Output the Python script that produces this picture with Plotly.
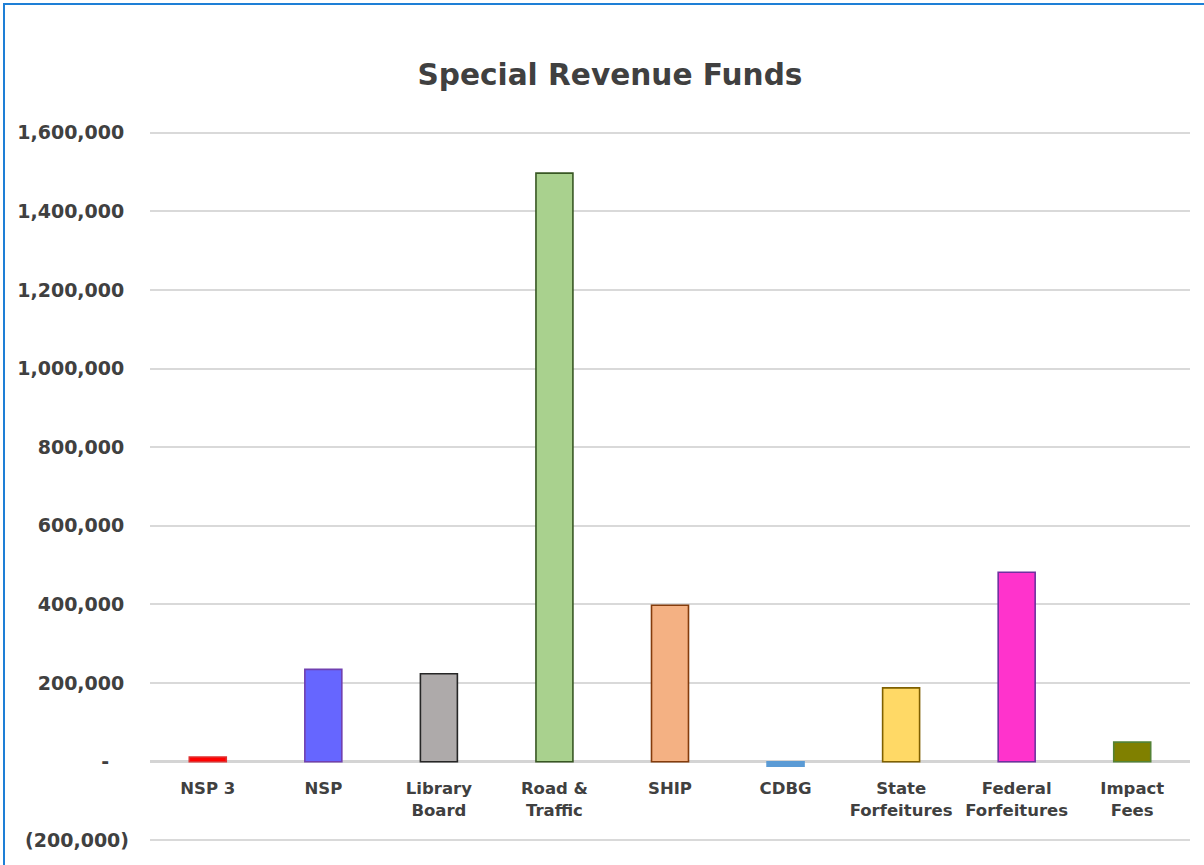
import plotly.graph_objects as go

# Fund balances by special revenue fund
categories = ["NSP 3", "NSP", "Library<br>Board", "Road &<br>Traffic", "SHIP",
              "CDBG", "State<br>Forfeitures", "Federal<br>Forfeitures", "Impact<br>Fees"]
values = [12000, 235000, 224000, 1497000, 398000, -11000, 188000, 482000, 50000]

fill_colors = ["#FF0000", "#6666FF", "#AEAAAA", "#A9D18E", "#F4B183",
               "#5B9BD5", "#FFD966", "#FF33CC", "#808000"]
edge_colors = ["#E03030", "#7040B0", "#262626", "#385723", "#843C0C",
               "#5B9BD5", "#7F6000", "#7030A0", "#548235"]

tick_vals = [-200000, 0, 200000, 400000, 600000, 800000, 1000000, 1200000, 1400000, 1600000]
tick_text = ["(200,000)", "-\u00a0\u00a0\u00a0", "200,000\u2005", "400,000\u2005", "600,000\u2005",
             "800,000\u2005", "1,000,000\u2005", "1,200,000\u2005", "1,400,000\u2005", "1,600,000\u2005"]

FONT = "DejaVu Sans"
TEXT = "#404040"

# small headroom so the outer gridlines are drawn
Y_MIN, Y_MAX = -204000, 1604000

fig = go.Figure(go.Bar(
    x=categories,
    y=values,
    width=0.32,
    marker=dict(color=fill_colors, line=dict(color=edge_colors, width=1.6)),
    hoverinfo="x+y",
))

fig.update_layout(
    width=1204,
    height=865,
    margin=dict(l=150, r=14, t=131, b=23),
    paper_bgcolor="white",
    plot_bgcolor="white",
    showlegend=False,
    title=dict(
        text="<b>Special Revenue Funds</b>",
        font=dict(family=FONT, size=29.6, color=TEXT),
        x=0.5066, xref="container", xanchor="center",
        y=1 - 75 / 865, yref="container", yanchor="middle",
    ),
    xaxis=dict(
        type="category",
        anchor="free",
        position=(0 - Y_MIN) / (Y_MAX - Y_MIN),
        showline=False,
        showgrid=False,
        ticks="",
        tickfont=dict(family=FONT, size=16.5, color=TEXT, weight="bold"),
        ticklabelstandoff=15,
        range=[-0.5, 8.5],
    ),
    yaxis=dict(
        range=[Y_MIN, Y_MAX],
        tickvals=tick_vals,
        ticktext=tick_text,
        showgrid=True,
        gridcolor="#D9D9D9",
        gridwidth=1.5,
        zeroline=True,
        zerolinecolor="#D4D4D4",
        zerolinewidth=3,
        showline=False,
        ticks="",
        tickfont=dict(family=FONT, size=19, color=TEXT, weight="bold"),
        ticklabelstandoff=20,
    ),
    shapes=[dict(
        type="rect", xref="paper", yref="paper",
        x0=(4 - 150) / 1040, x1=1.2,
        y0=-0.2, y1=(865 - 23 - 4) / 711,
        line=dict(color="#1E7FD6", width=2),
        fillcolor="rgba(0,0,0,0)",
        layer="above",
    )],
)

fig.write_html("out.html")
